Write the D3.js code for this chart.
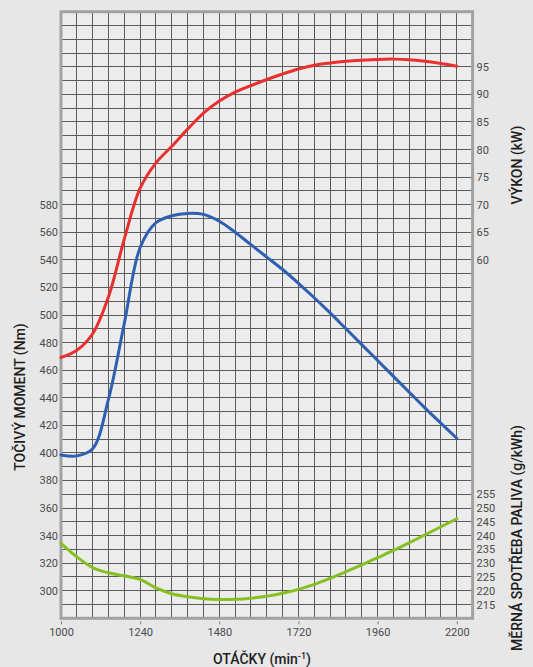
<!DOCTYPE html>
<html>
<head>
<meta charset="utf-8">
<script src="https://cdn.jsdelivr.net/npm/d3@7"></script>
<style>
  html, body { margin: 0; padding: 0; background: #e7e7e7; }
  svg { display: block; }
</style>
</head>
<body>
<svg id="chart" width="533" height="667"></svg>
<script>
// ---- data ----
const rpm = [1000, 1048, 1096, 1144, 1192, 1240, 1288, 1336, 1384, 1432, 1480, 1528, 1576,
             1624, 1672, 1720, 1768, 1816, 1864, 1912, 1960, 2008, 2056, 2104, 2152, 2200];
const torqueNm = [398.5, 397.8, 403, 439, 494, 549, 567, 572, 573.7, 573, 568, 560, 551,
                  542, 533, 523, 512.5, 501.5, 490, 478.5, 467, 455.5, 444, 432.5, 421.5, 410.6];
const powerKW = [42.3, 43.6, 46.6, 53.3, 63.8, 73.0, 77.6, 80.6, 83.7, 86.6, 88.8, 90.4, 91.6,
                 92.7, 93.7, 94.6, 95.3, 95.7, 96.0, 96.2, 96.35, 96.4, 96.3, 96.0, 95.6, 95.1];
const fuelG = [237.2, 232.3, 228.4, 226.5, 225.4, 224.1, 221.0, 218.9, 217.8, 217.1, 216.8, 216.9, 217.3,
               218.0, 219.1, 220.5, 222.3, 224.5, 226.9, 229.4, 232.0, 234.6, 237.4, 240.3, 243.2, 246.1];

const xTicks = [1000, 1240, 1480, 1720, 1960, 2200];
const torqueTicks = [300, 320, 340, 360, 380, 400, 420, 440, 460, 480, 500, 520, 540, 560, 580];
const powerTicks = [60, 65, 70, 75, 80, 85, 90, 95];
const fuelTicks = [215, 220, 225, 230, 235, 240, 245, 250, 255];

const xTitle = "OTÁČKY (min";
const xTitleSup = "-1";
const leftTitle = "TOČIVÝ MOMENT (Nm)";
const rightTitleTop = "VÝKON (kW)";
const rightTitleBottom = "MĚRNÁ SPOTŘEBA PALIVA (g/kWh)";

// ---- layout ----
const L = 61, R = 472.6, T = 11.7, B = 618.3;
const svg = d3.select("#chart");
const font = "Roboto, 'DejaVu Sans', sans-serif";

const x = d3.scaleLinear().domain([1000, 2248]).range([L, R]);
const yT = d3.scaleLinear().domain([280, 720]).range([B, T]);
const yP = d3.scaleLinear().domain([-5, 105]).range([B, T]);
const yF = d3.scaleLinear().domain([210, 430]).range([B, T]);

// plot background
svg.append("rect").attr("x", 0).attr("y", 0).attr("width", 533).attr("height", 667).attr("fill", "#e7e7e7");
svg.append("rect").attr("x", L).attr("y", T).attr("width", R - L).attr("height", B - T).attr("fill", "#ececec");

// grid
const grid = svg.append("g").attr("stroke", "#5c5c5c").attr("stroke-width", 1).attr("shape-rendering", "crispEdges");
grid.selectAll("line.v").data(d3.range(1048, 2248, 48)).join("line")
  .attr("x1", d => x(d)).attr("x2", d => x(d)).attr("y1", T).attr("y2", B);
grid.selectAll("line.h").data(d3.range(290, 720, 10)).join("line")
  .attr("y1", d => yT(d)).attr("y2", d => yT(d)).attr("x1", L).attr("x2", R);

// frame
svg.append("rect").attr("x", L).attr("y", T).attr("width", R - L).attr("height", B - T)
  .attr("fill", "none").attr("stroke", "#a2a2a2").attr("stroke-width", 3);

// axes
const tickStyle = g => {
  g.select(".domain").remove();
  g.selectAll("line").remove();
  g.selectAll("text").attr("font-family", font).attr("font-size", 11).attr("fill", "#4a4a4a");
};
svg.append("g").attr("transform", `translate(${L - 3},0)`)
  .call(d3.axisLeft(yT).tickValues(torqueTicks).tickSize(0).tickPadding(0).tickFormat(d3.format("d")))
  .call(tickStyle);
svg.append("g").attr("transform", `translate(${R + 4},0)`)
  .call(d3.axisRight(yP).tickValues(powerTicks).tickSize(0).tickPadding(0).tickFormat(d3.format("d")))
  .call(tickStyle);
svg.append("g").attr("transform", `translate(${R + 4},0)`)
  .call(d3.axisRight(yF).tickValues(fuelTicks).tickSize(0).tickPadding(0).tickFormat(d3.format("d")))
  .call(tickStyle);
const xa = svg.append("g").attr("transform", `translate(0,${B + 3})`)
  .call(d3.axisBottom(x).tickValues(xTicks).tickSize(3).tickPadding(4).tickFormat(d3.format("d")));
xa.select(".domain").remove();
xa.selectAll("line").attr("stroke", "#7a7a7a");
xa.selectAll("text").attr("font-family", font).attr("font-size", 11).attr("fill", "#4a4a4a");

// curves
const line = yScale => d3.line().x((d, i) => x(rpm[i])).y(d => yScale(d)).curve(d3.curveCatmullRom.alpha(0.5));
svg.append("path").datum(powerKW).attr("d", line(yP))
  .attr("fill", "none").attr("stroke", "#e8302f").attr("stroke-width", 3).attr("stroke-linecap", "round");
svg.append("path").datum(torqueNm).attr("d", line(yT))
  .attr("fill", "none").attr("stroke", "#2f5fb2").attr("stroke-width", 3).attr("stroke-linecap", "round");
svg.append("path").datum(fuelG).attr("d", line(yF))
  .attr("fill", "none").attr("stroke", "#85c020").attr("stroke-width", 3).attr("stroke-linecap", "round");

// titles
const titleStyle = t => t.attr("font-family", font).attr("font-size", 14).attr("font-weight", 500)
  .attr("fill", "#1e1e1e").attr("text-anchor", "middle");
const xt = svg.append("text").attr("x", 262).attr("y", 664).call(titleStyle);
xt.append("tspan").text(xTitle);
xt.append("tspan").attr("font-size", 9).attr("dy", -5).text(xTitleSup);
xt.append("tspan").attr("dy", 5).text(")");

svg.append("text").attr("transform", "translate(25,397) rotate(-90)").call(titleStyle).text(leftTitle);
svg.append("text").attr("transform", "translate(522,165) rotate(-90)").call(titleStyle).text(rightTitleTop);
svg.append("text").attr("transform", "translate(522,538) rotate(-90)").call(titleStyle).text(rightTitleBottom);
</script>
</body>
</html>
